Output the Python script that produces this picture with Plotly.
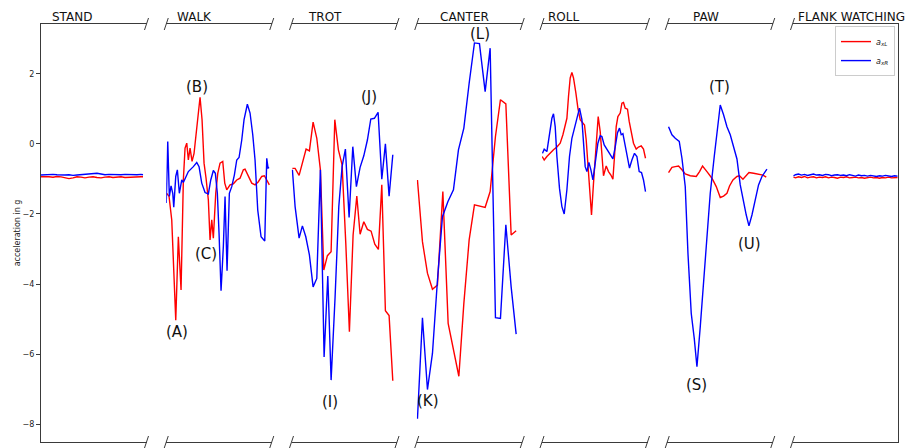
import plotly.graph_objects as go

# ---------------- data ----------------
panel_names = ["STAND", "WALK", "TROT", "CANTER", "ROLL", "PAW", "FLANK WATCHING"]

stand_t = [0, 4, 8, 12, 16, 20, 24, 28, 32, 36, 40, 44, 48, 52, 56, 60, 64, 68, 72, 76, 80, 84, 88, 92, 96, 100, 102]
stand_red = [-0.94, -0.93, -0.94, -0.95, -0.93, -0.94, -0.97, -0.99, -0.97, -0.94, -0.95, -0.97, -0.95, -0.94,
             -0.96, -0.97, -0.95, -0.94, -0.96, -0.95, -0.94, -0.96, -0.95, -0.94, -0.95, -0.94, -0.94]
stand_blue = [-0.89, -0.88, -0.88, -0.87, -0.88, -0.89, -0.89, -0.88, -0.90, -0.89, -0.88, -0.88, -0.87, -0.86,
              -0.84, -0.86, -0.88, -0.87, -0.88, -0.89, -0.88, -0.87, -0.88, -0.89, -0.88, -0.87, -0.88]

walk_red_t = [0.5, 2.8, 5.5, 9.5, 12.1, 14.8, 17.1, 18.8, 20.5, 22.1, 23.8, 25.8, 27.8, 29.8, 31.8, 33.8, 35.8,
              37.8, 39.8, 42.1, 43.8, 45.5, 47.1, 49.5, 51.5, 53.8, 56.5, 58.5, 60.5, 63.8, 67.1, 70.5, 73.8,
              77.1, 78.8, 82.1, 85.5, 88.8, 92.1, 95.5, 98.1, 100.5, 103.1]
walk_red = [-1.41, -1.5, -2.17, -5.03, -2.65, -4.17, -1.03, -0.12, 0.02, -0.46, -0.12, -0.5, -0.27, 0.31, 0.88,
            1.33, 0.69, -0.55, -0.98, -1.6, -2.74, -2.17, -2.69, -1.41, -0.84, -0.55, -0.5, -1.12, -1.31, -1.17,
            -1.14, -1.03, -0.98, -0.74, -0.72, -0.93, -1.12, -1.17, -1.08, -0.93, -0.91, -1.03, -1.17]
walk_blue_t = [0, 1.5, 3.1, 4.8, 6.5, 7.5, 9.5, 11.1, 13.1, 15.5, 17.1, 19.5, 22.1, 27.1, 30.5, 32.8, 35.5, 38.8,
               42.1, 44.5, 47.1, 49.1, 51.1, 52.8, 54.8, 57.1, 58.8, 60.8, 63.1, 65.5, 68.1, 70.5, 72.8, 75.5,
               77.8, 81.1, 83.8, 86.5, 88.8, 91.5, 94.8, 98.5, 100.5, 101.8, 102.8]
walk_blue = [-1.69, 0.07, -1.5, -1.2, -1.41, -1.81, -0.93, -0.74, -1.41, -1.03, -1.1, -0.93, -0.79, -0.65, -0.53,
             -0.65, -1.12, -1.39, -1.43, -1.03, -0.76, -0.84, -1.41, -2.55, -4.19, -2.93, -1.5, -3.62, -1.41,
             -1.22, -0.89, -0.46, -0.39, 0.11, 0.69, 1.13, 0.88, 0.26, -0.46, -1.89, -2.65, -2.77, -0.41, -0.69,
             -0.67]

trot_red_t = [0.9, 3.6, 7.6, 10.9, 14.6, 17.9, 21.6, 25.3, 28.9, 32.3, 35.9, 39.6, 43.3, 46.9, 50.6, 54.3, 57.9,
              61.6, 65.3, 68.6, 72.3, 75.9, 79.6, 83.3, 86.9, 90.3, 93.9, 97.6, 101.3]
trot_red = [-0.7, -0.7, -0.9, -0.53, -0.15, -0.2, 0.62, 0.16, -0.74, -3.6, -3.19, -3.08, 0.69, -0.17, -0.6, -2.84,
            -5.36, -2.6, -1.49, -2.58, -2.22, -2.44, -2.49, -2.86, -3.01, -1.17, -4.76, -4.9, -6.76]
trot_blue_t = [0.9, 3.6, 7.6, 10.9, 14.3, 17.9, 21.6, 25.3, 28.9, 32.6, 36.3, 39.6, 43.6, 47.3, 50.6, 53.9, 57.6,
               61.3, 64.9, 68.6, 72.3, 75.9, 79.3, 82.9, 86.6, 90.3, 93.9, 97.6, 101.3]
trot_blue = [-0.74, -1.79, -2.69, -2.34, -2.65, -3.17, -4.08, -3.84, -0.74, -6.08, -3.77, -6.74, -4.36, -1.79,
             -0.65, -0.15, -2.1, -0.08, -1.22, -0.67, -0.34, 0.11, 0.71, 0.73, 0.9, -1.01, 0.0, -1.49, -0.31]

canter_red_t = [0.7, 5.7, 10.7, 15.7, 20.7, 26.1, 31.4, 36.7, 42.1, 47.1, 52.4, 57.7, 63.1, 68.4, 73.4, 78.7,
                83.7, 89.1, 94.4, 99.4]
canter_red = [-1.03, -2.79, -3.69, -4.15, -4.03, -1.36, -5.12, -5.89, -6.63, -4.55, -2.74, -1.74, -1.77, -1.81,
              -1.36, 0.21, 1.26, 1.14, -2.6, -2.48]
canter_blue_t = [0.7, 5.7, 10.7, 15.7, 20.7, 25.7, 31.1, 36.7, 41.7, 47.1, 52.4, 57.7, 62.7, 68.4, 73.4, 78.7,
                 83.7, 89.1, 94.4, 99.4]
canter_blue = [-7.84, -4.96, -7.01, -5.98, -3.89, -2.08, -1.65, -1.31, -0.17, 0.45, 1.73, 2.88, 2.86, 1.49, 2.73,
               -4.96, -4.98, -2.31, -4.08, -5.43]

roll_red_t = [0.2, 2.2, 4.9, 8.2, 11.5, 14.9, 18.2, 20.9, 23.2, 24.9, 26.5, 28.2, 29.9, 31.5, 33.9, 35.9, 38.2,
              40.5, 42.5, 44.2, 45.9, 47.5, 49.5, 51.5, 53.9, 56.2, 58.2, 59.9, 61.5, 64.2, 66.5, 68.9, 70.9,
              72.5, 74.2, 75.9, 78.2, 79.9, 81.5, 83.2, 85.5, 87.2, 89.2, 91.5, 94.2, 96.5, 99.2, 101.5, 103.5]
roll_red = [-0.36, -0.46, -0.36, -0.25, -0.17, -0.09, 0.02, 0.26, 0.59, 0.73, 1.35, 1.88, 2.04, 1.88, 1.45, 1.02,
            0.69, 0.59, 0.54, 0.11, -0.65, -1.41, -2.03, -1.12, 0.02, 0.78, 0.35, -0.46, -0.91, -0.63, -0.79,
            -0.89, -1.01, -0.36, 0.49, 0.78, 0.88, 1.16, 1.18, 1.02, 0.99, 0.64, 0.31, 0.02, -0.15, -0.09, -0.06,
            -0.15, -0.41]
roll_blue_t = [0.5, 2.2, 4.9, 7.5, 9.9, 11.5, 13.2, 14.9, 17.5, 19.9, 22.2, 24.9, 27.5, 29.9, 32.5, 34.9, 37.5,
               39.9, 41.5, 43.2, 44.9, 46.9, 48.9, 50.9, 53.2, 55.9, 58.2, 59.9, 62.2, 65.5, 68.2, 70.9, 73.2,
               75.5, 77.5, 79.2, 80.9, 83.2, 85.5, 87.5, 89.9, 92.5, 94.9, 97.2, 99.5, 101.5, 103.5]
roll_blue = [-0.27, -0.15, -0.22, 0.26, 0.73, 0.86, 0.49, -0.36, -1.27, -1.79, -2.0, -1.31, -0.36, 0.16, 0.45,
             0.78, 1.02, 0.69, -0.08, -0.65, -0.79, -0.53, -0.74, -1.03, -0.55, 0.02, 0.23, 0.21, -0.03, -0.17,
             -0.31, -0.43, -0.09, 0.32, 0.45, 0.26, 0.29, -0.09, -0.46, -0.69, -0.46, -0.27, -0.36, -0.79, -0.82,
             -1.03, -1.36]

paw_red_t = [1.3, 4.7, 8, 11.3, 14.7, 18, 23, 29, 32.3, 35.3, 39.7, 44.7, 49, 53, 56.3, 59.7, 62.3, 65.7, 69.7,
             72.3, 75.7, 78.3, 81.7, 86.3, 91.3, 95.7, 99]
paw_red = [-0.82, -0.67, -0.65, -0.63, -0.74, -0.86, -0.91, -0.93, -0.79, -0.63, -0.79, -0.98, -1.22, -1.53, -1.49,
           -1.41, -1.2, -1.03, -0.93, -0.91, -1.01, -0.93, -0.82, -0.84, -0.86, -0.89, -0.95]
paw_blue_t = [1.3, 4.7, 8, 12, 14.7, 18, 20.7, 24, 27, 29.7, 33, 36.3, 39.7, 43, 47, 49.7, 53, 56.3, 59.7, 63,
              66.3, 69.7, 73, 76.3, 79, 81.7, 84.7, 88, 91.3, 94.7, 97, 99.7]
paw_blue = [0.49, 0.26, 0.16, 0.07, -0.41, -1.22, -3.12, -4.84, -5.55, -6.36, -5.22, -3.89, -2.46, -1.41, -0.36,
            0.31, 1.11, 0.83, 0.49, 0.26, -0.08, -0.43, -1.17, -1.69, -2.03, -2.34, -2.03, -1.6, -1.17, -0.93,
            -0.84, -0.72]

flank_t = [1, 3, 6, 9, 12, 15, 18, 21, 24, 27, 30, 33, 36, 39, 42, 45, 48, 51, 54, 57, 60, 63, 66, 69, 72, 75,
           78, 81, 84, 87, 90, 93, 96, 99, 102, 105]
flank_red = [-0.95, -0.97, -0.94, -0.96, -0.93, -0.97, -0.95, -0.94, -0.97, -0.95, -0.96, -0.94, -0.97, -0.95,
             -0.96, -0.98, -0.95, -0.96, -0.94, -0.97, -0.96, -0.95, -0.97, -0.96, -0.98, -0.96, -0.95, -0.97,
             -0.96, -0.98, -0.96, -0.97, -0.95, -0.97, -0.96, -0.96]
flank_blue = [-0.91, -0.88, -0.86, -0.89, -0.87, -0.90, -0.88, -0.86, -0.89, -0.88, -0.90, -0.87, -0.88, -0.91,
              -0.89, -0.88, -0.90, -0.89, -0.91, -0.88, -0.90, -0.92, -0.89, -0.91, -0.90, -0.92, -0.90, -0.91,
              -0.93, -0.91, -0.92, -0.90, -0.92, -0.93, -0.91, -0.92]

red_t = [stand_t, walk_red_t, trot_red_t, canter_red_t, roll_red_t, paw_red_t, flank_t]
red_v = [stand_red, walk_red, trot_red, canter_red, roll_red, paw_red, flank_red]
blue_t = [stand_t, walk_blue_t, trot_blue_t, canter_blue_t, roll_blue_t, paw_blue_t, flank_t]
blue_v = [stand_blue, walk_blue, trot_blue, canter_blue, roll_blue, paw_blue, flank_blue]

# event labels: panel index, time, acceleration
label_text = ["(A)", "(B)", "(C)", "(I)", "(J)", "(K)", "(L)", "(S)", "(T)", "(U)"]
label_panel = [1, 1, 1, 2, 2, 3, 3, 5, 5, 5]
label_t = [10.8, 30.3, 39.8, 38.1, 77.6, 11.4, 63.1, 29.3, 51.8, 82.0]
label_acc = [-5.37, 1.61, -3.14, -7.37, 1.34, -7.33, 3.14, -6.89, 1.61, -2.87]

y_ticks = [-8, -6, -4, -2, 0, 2]

# ---------------- layout constants ----------------
FONT = "DejaVu Sans"
W_PX, H_PX = 909, 448
ML, MR, MT, MB = 41, 11, 24, 6
PLOT_W = W_PX - ML - MR
PLOT_H = H_PX - MT - MB
STEP_PX, PANEL_PX = 125.25, 105.5
Y_RANGE = [-8.506, 3.42]
X_RANGE = [0, PANEL_PX]
title_offset = [9.4, 8.5, 14.2, 21.3, 4.4, 24.2, 3.2]
RED, BLUE = "#ff0000", "#0000ff"
SPINE = "#3a3a3a"

fig = go.Figure()
n = len(panel_names)

def ax(i):
    return "" if i == 0 else str(i + 1)

for i in range(n):
    s = ax(i)
    fig.add_trace(go.Scatter(x=red_t[i], y=red_v[i], mode="lines", line=dict(color=RED, width=1.4),
                             xaxis="x" + s, yaxis="y" + s, name="<i>a</i><sub><i>xL</i></sub>",
                             showlegend=(i == n - 1), hoverinfo="skip"))
for i in range(n):
    s = ax(i)
    fig.add_trace(go.Scatter(x=blue_t[i], y=blue_v[i], mode="lines", line=dict(color=BLUE, width=1.4),
                             xaxis="x" + s, yaxis="y" + s, name="<i>a</i><sub><i>xR</i></sub>",
                             showlegend=(i == n - 1), hoverinfo="skip"))

shapes = []
annotations = []
dx = 2.0 / PLOT_W
dy = 6.0 / PLOT_H
for i in range(n):
    s = ax(i)
    d0 = i * STEP_PX / PLOT_W
    d1 = min(1.0, (i * STEP_PX + PANEL_PX) / PLOT_W)
    fig.layout["xaxis" + s] = dict(domain=[d0, d1], range=X_RANGE, anchor="y" + s, showline=True, mirror=True,
                                   linecolor=SPINE, linewidth=1, showticklabels=False, ticks="",
                                   showgrid=False, zeroline=False, fixedrange=True)
    ycfg = dict(domain=[0, 1], range=Y_RANGE, anchor="x" + s, showgrid=False, zeroline=False, fixedrange=True)
    if i == 0:
        ycfg.update(showline=True, linecolor=SPINE, linewidth=1, ticks="outside", ticklen=4, tickwidth=1,
                    tickcolor=SPINE, tickvals=y_ticks, tickfont=dict(size=8, color="#222", family=FONT),
                    title=dict(text="acceleration in g", font=dict(size=8, color="#222", family=FONT),
                               standoff=0))
    elif i == n - 1:
        ycfg.update(side="right", showline=True, linecolor=SPINE, linewidth=1, showticklabels=False, ticks="")
    else:
        ycfg.update(showline=False, showticklabels=False, ticks="")
    fig.layout["yaxis" + s] = ycfg

    edges = []
    if i > 0:
        edges.append(d0)
    if i < n - 1:
        edges.append(d1)
    for ex in edges:
        for ey in (0.0, 1.0):
            shapes.append(dict(type="line", xref="paper", yref="paper", x0=ex - dx, y0=ey - dy,
                               x1=ex + dx, y1=ey + dy, line=dict(color=SPINE, width=1)))

    annotations.append(dict(text=panel_names[i], xref="x" + s, yref="paper", x=title_offset[i], y=1.0,
                            xanchor="left", yanchor="bottom", showarrow=False, yshift=-2,
                            font=dict(size=12, color="#111", family=FONT)))

for k in range(len(label_text)):
    s = ax(label_panel[k])
    annotations.append(dict(text=label_text[k], xref="x" + s, yref="y" + s, x=label_t[k], y=label_acc[k],
                            xanchor="center", yanchor="middle", showarrow=False,
                            font=dict(size=15, color="#111", family=FONT)))

fig.update_layout(
    width=W_PX, height=H_PX,
    margin=dict(l=ML, r=MR, t=MT, b=MB),
    paper_bgcolor="white", plot_bgcolor="white",
    font=dict(family=FONT),
    shapes=shapes, annotations=annotations,
    showlegend=True,
    legend=dict(x=0.9965, y=0.995, xanchor="right", yanchor="top", bgcolor="white",
                bordercolor="#cccccc", borderwidth=1, font=dict(size=8, family=FONT, color="#222"),
                itemwidth=30, tracegroupgap=0),
)

fig.write_html("out.html")
